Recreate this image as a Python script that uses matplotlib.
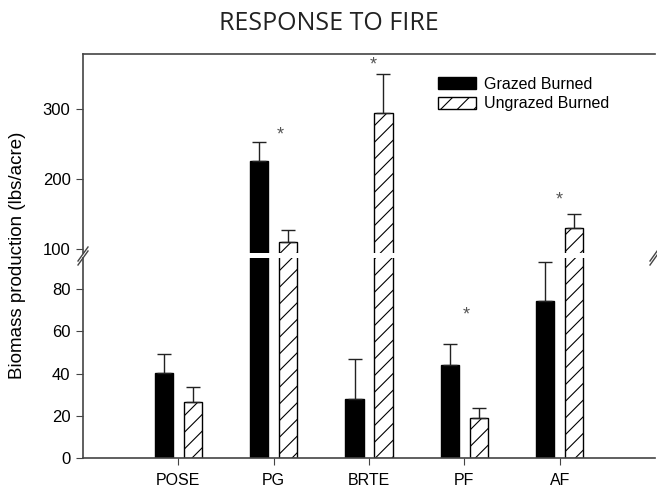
import numpy as np
import matplotlib
matplotlib.use('Agg')
from matplotlib import pyplot as plt

# data
categories = ['POSE', 'PG', 'BRTE', 'PF', 'AF']
grazed = [40.5, 226, 28, 44, 74.5]
grazed_err = [9, 27, 19, 10, 18.5]
ungrazed = [26.5, 110, 295, 19, 131]
ungrazed_err = [7, 18, 55, 4.5, 19]
# significance stars: (x position, y value)
star_x = [1.07, 2.04, 3.02, 4.0]
star_y = [263, 363, 68, 170]

plt.rcParams['font.family'] = ['Liberation Sans', 'DejaVu Sans']
plt.rcParams['hatch.linewidth'] = 0.8

W, H = 657, 487
fig = plt.figure(figsize=(W / 100, H / 100), dpi=100)

axc = '#444444'
x = np.arange(len(categories))
w = 0.19
off = 0.152
lo_top = 94.8
hi_bot = 94.7


def frac(px_left, px_top, px_w, px_h):
    return [px_left / W, 1 - (px_top + px_h) / H, px_w / W, px_h / H]


ax_hi = fig.add_axes(frac(83, 54, 572, 199))
ax_lo = fig.add_axes(frac(83, 258, 572, 200))

ekw = dict(fmt='none', ecolor='#222222', elinewidth=1, capthick=1, capsize=5)
for ax in (ax_hi, ax_lo):
    ax.bar(x - off, grazed, w, color='black', edgecolor='black', linewidth=1,
           label='Grazed Burned')
    ax.bar(x + off, ungrazed, w, color='white', edgecolor='black', linewidth=1,
           hatch='//', label='Ungrazed Burned')
    ax.set_xlim(-1, 5)
    for s in ax.spines.values():
        s.set_color(axc)
        s.set_linewidth(1.2)
    ax.spines['right'].set_visible(False)
    ax.tick_params(axis='y', direction='out', length=5, color=axc, labelsize=12, pad=4)

# one-sided error bars, each in the panel where its cap lands
for xs, vals, errs in ((x - off, grazed, grazed_err), (x + off, ungrazed, ungrazed_err)):
    for xi, v, e in zip(xs, vals, errs):
        ax = ax_lo if v + e < lo_top else ax_hi
        ax.errorbar(xi, v, yerr=[[0], [e]], **ekw)

ax_lo.set_ylim(0, lo_top)
ax_lo.set_yticks([0, 20, 40, 60, 80])
ax_lo.spines['top'].set_visible(False)
ax_lo.set_xticks(x)
ax_lo.set_xticklabels(categories)
ax_lo.tick_params(axis='x', direction='out', length=5, color=axc, labelsize=11.5, pad=6)

ax_hi.set_ylim(hi_bot, 378.4)
ax_hi.set_yticks([100, 200, 300])
ax_hi.spines['bottom'].set_visible(False)
ax_hi.set_xticks([])

# stars
for sx, sy in zip(star_x, star_y):
    target = ax_lo if sy < lo_top else ax_hi
    target.text(sx, sy, '*', ha='center', va='center', fontsize=13, color='#555555')

# break marks
for xp in (83, 655):
    for dy in (-2, 2):
        fig.add_artist(plt.Line2D([(xp - 5) / W, (xp + 5) / W],
                                  [1 - (263 + dy) / H, 1 - (249 + dy) / H],
                                  color=axc, lw=1))

ax_hi.legend(loc='upper left', bbox_to_anchor=(0.62, 0.885), frameon=False,
             fontsize=11.5, handlelength=2.4, handleheight=0.75, borderpad=0,
             borderaxespad=0, labelspacing=0.28, handletextpad=0.5)

fig.text(18 / W, 1 - 255 / H, 'Biomass production (lbs/acre)', rotation=90,
         ha='center', va='center', fontsize=13.5)
fig.text(329 / W, 1 - 23 / H, 'RESPONSE TO FIRE', ha='center', va='center',
         fontsize=18, family=['Open Sans', 'DejaVu Sans'], color='#222222')

fig.savefig('out.png', dpi=100)
